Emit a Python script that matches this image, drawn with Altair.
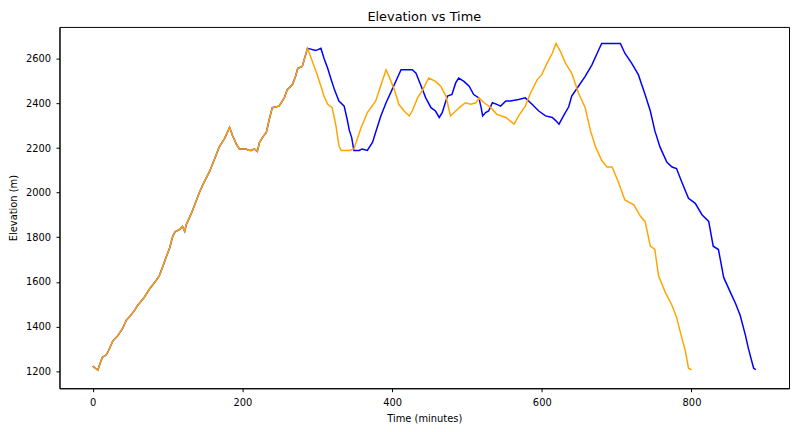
import altair as alt
import pandas as pd

# Shared section (both tracks identical up to the first summit)
common_time = [0, 4, 7, 10, 13, 18, 21, 27, 34, 40, 45, 49, 56, 60, 69, 76, 83, 89, 94, 98,
               103, 107, 110, 116, 120, 123, 125, 132, 138, 143, 149, 156, 163, 169, 176, 183,
               187, 192, 196, 205, 208, 212, 216, 220, 223, 227, 232, 236, 240, 249, 256, 260,
               267, 271, 274, 280, 287]
common_elev = [1222, 1212, 1205, 1235, 1262, 1272, 1290, 1335, 1360, 1391, 1428, 1442, 1472, 1494,
               1531, 1568, 1598, 1627, 1671, 1709, 1753, 1804, 1824, 1834, 1849, 1827, 1856, 1908,
               1960, 2004, 2048, 2093, 2152, 2204, 2241, 2292, 2255, 2218, 2196, 2196, 2190, 2189,
               2196, 2185, 2226, 2248, 2270, 2329, 2381, 2388, 2425, 2462, 2485, 2521, 2558, 2566,
               2647]

orange_time = [292, 296, 300, 305, 309, 314, 320, 325, 329, 332, 343, 349, 358, 367, 378, 385,
               392, 396, 403, 409, 416, 423, 427, 434, 440, 449, 458, 465, 472, 478, 485, 492,
               498, 505, 512, 516, 523, 532, 540, 552, 563, 569, 578, 585, 594, 600, 607, 614,
               619, 625, 632, 640, 649, 658, 665, 672, 680, 687, 694, 703, 711, 723, 732, 738,
               745, 751, 756, 765, 774, 780, 785, 792, 796, 800]
orange_elev = [2603, 2566, 2529, 2477, 2433, 2396, 2381, 2300, 2211, 2189, 2189, 2196, 2285, 2359,
               2410, 2480, 2551, 2521, 2462, 2396, 2366, 2344, 2366, 2425, 2455, 2514, 2499, 2477,
               2433, 2344, 2366, 2388, 2403, 2396, 2403, 2425, 2403, 2381, 2351, 2337, 2307, 2344,
               2388, 2447, 2507, 2529, 2581, 2625, 2669, 2632, 2578, 2536, 2447, 2381, 2278, 2204,
               2145, 2115, 2115, 2041, 1967, 1945, 1893, 1871, 1760, 1745, 1627, 1553, 1494, 1442,
               1376, 1287, 1213, 1206]

blue_time = [298, 305, 309, 314, 318, 323, 329, 336, 340, 343, 346, 349, 356, 360, 367, 374, 378,
             385, 392, 400, 407, 412, 427, 432, 438, 445, 452, 458, 463, 467, 474, 480, 485, 489,
             496, 503, 509, 516, 519, 521, 525, 529, 534, 540, 545, 552, 558, 569, 578, 587, 596,
             605, 614, 619, 623, 629, 636, 640, 649, 658, 667, 674, 680, 705, 711, 720, 729, 738,
             745, 751, 758, 767, 774, 780, 787, 796, 805, 814, 823, 829, 836, 843, 852, 859, 865,
             872, 876, 883, 886]
blue_elev = [2637, 2647, 2603, 2558, 2514, 2462, 2411, 2388, 2329, 2278, 2248, 2189, 2189, 2196,
             2189, 2226, 2270, 2344, 2403, 2462, 2514, 2551, 2551, 2536, 2485, 2425, 2381, 2366,
             2337, 2359, 2433, 2440, 2492, 2514, 2499, 2477, 2440, 2425, 2381, 2344, 2359, 2366,
             2403, 2396, 2388, 2411, 2411, 2418, 2425, 2396, 2366, 2344, 2337, 2322, 2307, 2344,
             2385, 2433, 2477, 2521, 2573, 2625, 2669, 2669, 2625, 2581, 2529, 2440, 2366, 2278,
             2204, 2137, 2115, 2108, 2048, 1975, 1952, 1901, 1871, 1760, 1745, 1620, 1553, 1502,
             1450, 1361, 1302, 1213, 1206]

x_ticks = [0, 200, 400, 600, 800]
y_ticks = [1200, 1400, 1600, 1800, 2000, 2200, 2400, 2600]

df_blue = pd.DataFrame({"t": common_time + blue_time, "e": common_elev + blue_elev})
df_orange = pd.DataFrame({"t": common_time + orange_time, "e": common_elev + orange_elev})

FONT = "DejaVu Sans"

x_enc = alt.X("t:Q", scale=alt.Scale(domain=[-44.3, 930.3], nice=False, zero=False),
              axis=alt.Axis(values=x_ticks, title="Time (minutes)", grid=False, format="d",
                            labelPadding=6, titlePadding=6))
y_enc = alt.Y("e:Q", scale=alt.Scale(domain=[1123, 2743], nice=False, zero=False),
              axis=alt.Axis(values=y_ticks, title="Elevation (m)", grid=False, format="d",
                            labelPadding=5.5, titlePadding=7))

blue = alt.Chart(df_blue).mark_line(color="#0000ff", strokeWidth=1.5).encode(
    x=x_enc, y=y_enc, order="t:Q")
orange = alt.Chart(df_orange).mark_line(color="#ffa500", strokeWidth=1.5).encode(
    x=x_enc, y=y_enc, order="t:Q")

chart = alt.layer(blue, orange).properties(
    width=737, height=365,
    title=alt.TitleParams("Elevation vs Time", font=FONT, fontSize=13, fontWeight="normal",
                          color="black", anchor="middle", offset=3),
    autosize=alt.AutoSizeParams(type="none"),
    padding={"left": 52, "top": 17, "right": 3, "bottom": 36},
).configure_view(stroke="black", strokeWidth=1).configure_axis(
    labelFont=FONT, labelFontSize=10, labelColor="black",
    titleFont=FONT, titleFontSize=10, titleColor="black", titleFontWeight="normal",
    domainColor="black", tickColor="black", tickSize=3.5,
    domainWidth=1, tickWidth=1,
)

chart.save("out.html", embed_options={"renderer": "svg", "actions": False})
